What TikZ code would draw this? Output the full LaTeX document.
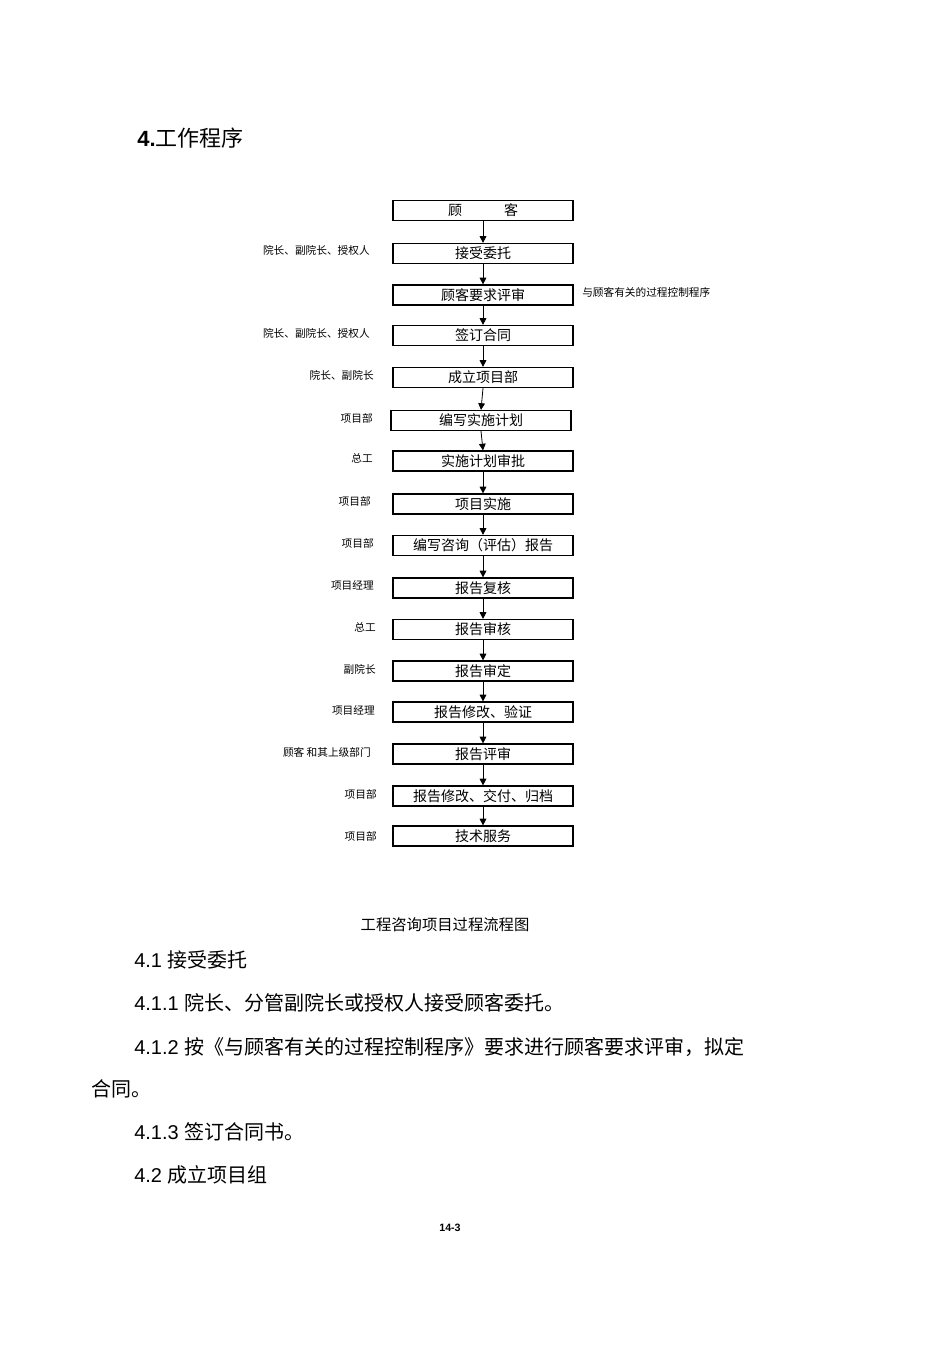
\documentclass[tikz,border=0pt]{standalone}
\usepackage{fontspec}
\setmainfont{Liberation Sans}
\newfontfamily\cjk{Noto Sans CJK SC}
\usetikzlibrary{arrows.meta}
\begin{document}
\begin{tikzpicture}[x=0.75pt,y=-0.75pt,
  fbox/.style={draw,line width=0.9pt,minimum width=135pt,minimum height=15pt,inner sep=0pt,font=\cjk\fontsize{10.5}{11}\selectfont},
  lab/.style={anchor=east,inner sep=0pt,font=\cjk\fontsize{8}{9}\selectfont},
  body/.style={anchor=west,inner sep=0pt,font=\fontsize{15}{17}\selectfont},
  arr/.style={-{Triangle[length=5pt,width=5pt]},line width=0.6pt}]
\path[use as bounding box,fill=white] (0,0) rectangle (950,1345);
\node[anchor=west,inner sep=0pt,font=\fontsize{16.5}{18}\selectfont] (title) at (137,138) {\textbf{4.}{\cjk 工作程序}};
\node[fbox] (b1) at (483,210.5) {顾\hspace{3em}客};
\node[fbox] (b2) at (483,253.5) {接受委托};
\node[fbox] (b3) at (483,295) {顾客要求评审};
\node[fbox] (b4) at (483,335.5) {签订合同};
\node[fbox] (b5) at (483,377.5) {成立项目部};
\node[fbox] (b6) at (481,420.5) {编写实施计划};
\node[fbox] (b7) at (483,461) {实施计划审批};
\node[fbox] (b8) at (483,504) {项目实施};
\node[fbox] (b9) at (483,545.5) {编写咨询（评估）报告};
\node[fbox] (b10) at (483,588) {报告复核};
\node[fbox] (b11) at (483,629.5) {报告审核};
\node[fbox] (b12) at (483,671) {报告审定};
\node[fbox] (b13) at (483,712) {报告修改、验证};
\node[fbox] (b14) at (483,754) {报告评审};
\node[fbox] (b15) at (483,796) {报告修改、交付、归档};
\node[fbox] (b16) at (483,836) {技术服务};
\foreach \a/\b in {b1/b2,b2/b3,b3/b4,b4/b5,b5/b6,b6/b7,b7/b8,b8/b9,b9/b10,b10/b11,b11/b12,b12/b13,b13/b14,b14/b15,b15/b16}
  \draw[arr] (\a.south) -- (\b.north);
\node[lab] (l2) at (370,250) {院长、副院长、授权人};
\node[lab,anchor=west] (r3) at (582,292) {与顾客有关的过程控制程序};
\node[lab] (l4) at (370,333) {院长、副院长、授权人};
\node[lab] (l5) at (374,375) {院长、副院长};
\node[lab] (l6) at (373,418) {项目部};
\node[lab] (l7) at (373,458) {总工};
\node[lab] (l8) at (371,501) {项目部};
\node[lab] (l9) at (374,543) {项目部};
\node[lab] (l10) at (374,585) {项目经理};
\node[lab] (l11) at (376,627) {总工};
\node[lab] (l12) at (376,669) {副院长};
\node[lab] (l13) at (375,710) {项目经理};
\node[lab] (l14) at (371,752) {顾客 和其上级部门};
\node[lab] (l15) at (377,794) {项目部};
\node[lab] (l16) at (377,836) {项目部};
\node[inner sep=0pt,font=\cjk\fontsize{11.5}{13}\selectfont] (cap) at (445,925) {工程咨询项目过程流程图};
\node[body] (t1) at (134,960) {4.1 {\cjk 接受委托}};
\node[body] (t2) at (134,1003) {4.1.1 {\cjk 院长、分管副院长或授权人接受顾客委托。}};
\node[body] (t3) at (134,1047) {4.1.2 {\cjk 按《与顾客有关的过程控制程序》要求进行顾客要求评审，拟定}};
\node[body] (t4) at (91,1089) {{\cjk 合同。}};
\node[body] (t5) at (134,1132) {4.1.3 {\cjk 签订合同书。}};
\node[body] (t6) at (134,1175) {4.2 {\cjk 成立项目组}};
\node[inner sep=0pt,font=\bfseries\fontsize{8}{9}\selectfont] (pg) at (450,1228) {14-3};
\end{tikzpicture}
\end{document}
